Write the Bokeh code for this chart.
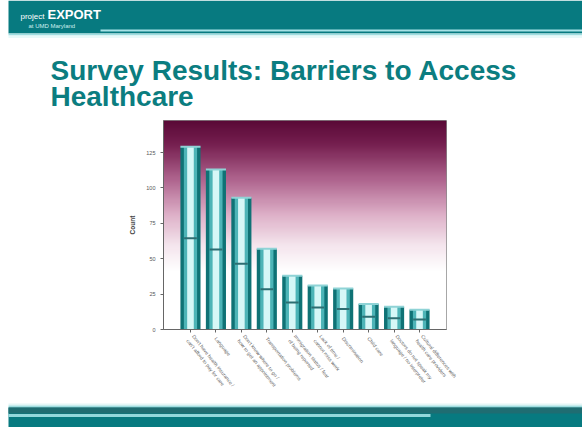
import numpy as np
from bokeh.plotting import figure
from bokeh.models import Range1d, FixedTicker, Label
from bokeh.layouts import column
from bokeh.embed import file_html
from bokeh.resources import INLINE

# ---- data ----
categories = [
    "Don't have health insurance /\ncan't afford to pay for care",
    "Language",
    "Don't know where to go /\nhow to get an appointment",
    "Transportation problems",
    "Immigration status / fear\nof being reported",
    "Lack of time /\ncannot miss work",
    "Discrimination",
    "Child care",
    "Doctors do not speak my\nlanguage / no interpreter",
    "Cultural differences with\nhealth care providers",
]
counts = [129, 113, 93, 57, 38, 31, 29, 18, 16, 14]
y_ticks = [0, 25, 50, 75, 100, 125]
y_label = "Count"
title_line1 = "Survey Results: Barriers to Access"
title_line2 = "Healthcare"

W = 582
TEAL = "#077a80"
TITLE_COLOR = "#0b7d80"


def slide_fig(h):
    f = figure(width=W, height=h, x_range=Range1d(0, W), y_range=Range1d(h, 0),
               output_backend="svg", toolbar_location=None, min_border=0, frame_align=False)
    f.axis.visible = False
    f.grid.visible = False
    f.outline_line_color = None
    f.background_fill_color = "white"
    f.border_fill_color = "white"
    return f


def txt(f, x, y, s, size, color, bold=False):
    f.add_layout(Label(x=x, y=y, text=s, text_font="Liberation Sans", text_font_size=size,
                       text_font_style="bold" if bold else "normal", text_color=color,
                       text_baseline="alphabetic"))


# ---- header band ----
hdr = slide_fig(38)
hdr.quad(left=8, right=W, top=0, bottom=33, fill_color=TEAL, line_color=None)
hdr.quad(left=8, right=W, top=33, bottom=35, fill_color="#9fdde0", line_color=None)
hdr.quad(left=8, right=W, top=35, bottom=38, fill_color="#e8f9f9", line_color=None)
hdr.segment(x0=[100], y0=[30], x1=[W], y1=[30], line_color="#a6e2e6", line_width=2)
txt(hdr, 20, 16, "project", "8px", "white")
txt(hdr, 47, 14, "EXPORT", "13px", "white", bold=True)
txt(hdr, 28, 25, "at UMD Maryland", "6px", "#cdeff0")

# ---- title ----
ttl = slide_fig(77)
txt(ttl, 50, 32, title_line1, "28px", TITLE_COLOR, bold=True)
txt(ttl, 50, 58, title_line2, "28px", TITLE_COLOR, bold=True)

# ---- chart ----
n = len(categories)
xs = list(range(1, n + 1))
y_max = 147.6
p = figure(width=W, height=285, x_range=Range1d(-0.06, n + 1.06), y_range=Range1d(0, y_max),
           output_backend="svg", toolbar_location=None, frame_align=False,
           min_border_left=163, min_border_right=136, min_border_top=5, min_border_bottom=71)
p.grid.visible = False
p.outline_line_color = "#8a8a8a"
p.background_fill_color = "white"
p.border_fill_color = "white"

# vertical gradient background (maroon at top to white)
stops = [(0.0, (90, 9, 55)), (0.12, (120, 34, 82)), (0.28, (175, 100, 142)),
         (0.45, (222, 176, 200)), (0.6, (245, 230, 238)), (0.72, (255, 255, 255)),
         (1.0, (255, 255, 255))]
N = 200
img = np.zeros((N, 2), dtype=np.uint32)
view = img.view(dtype=np.uint8).reshape((N, 2, 4))
for r in range(N):
    frac_top = 1 - r / (N - 1)
    for i in range(len(stops) - 1):
        f0, c0 = stops[i]
        f1, c1 = stops[i + 1]
        if f0 <= frac_top <= f1:
            t = (frac_top - f0) / (f1 - f0)
            c = [int(c0[k] + (c1[k] - c0[k]) * t) for k in range(3)]
            break
    view[r, :, 0] = c[0]
    view[r, :, 1] = c[1]
    view[r, :, 2] = c[2]
    view[r, :, 3] = 255
p.image_rgba(image=[img], x=-0.06, y=0, dw=n + 1.12, dh=y_max)

half = [c / 2 for c in counts]
p.vbar(x=xs, top=counts, width=0.79, fill_color="#0f7275", line_color=None)
p.vbar(x=xs, top=counts, width=0.52, fill_color="#4db4b7", line_color=None)
p.vbar(x=xs, top=counts, width=0.26, fill_color="#d6f7f7", line_color=None)
p.rect(x=xs, y=counts, width=0.79, height=2, height_units="screen",
       fill_color="#8fd3d6", line_color=None)
p.rect(x=xs, y=half, width=0.5, height=2, height_units="screen",
       fill_color="#2d6e72", line_color=None)

p.yaxis.ticker = FixedTicker(ticks=y_ticks)
p.yaxis.axis_label = y_label
p.yaxis.axis_label_text_font_size = "6.5px"
p.yaxis.axis_label_text_font_style = "bold"
p.yaxis.axis_label_text_color = "#444444"
p.yaxis.axis_label_standoff = 7
p.yaxis.major_label_text_font_size = "5.5px"
p.yaxis.major_label_text_color = "#555555"
p.yaxis.minor_tick_line_color = None
p.yaxis.major_tick_out = 3
p.yaxis.major_tick_in = 0

p.xaxis.ticker = FixedTicker(ticks=xs)
p.xaxis.major_label_overrides = {x: lab for x, lab in zip(xs, categories)}
p.xaxis.major_label_orientation = -0.9
p.xaxis.major_label_text_font_size = "5px"
p.xaxis.major_label_text_color = "#666666"
p.xaxis.minor_tick_line_color = None
p.xaxis.major_tick_out = 3
p.xaxis.major_tick_in = 0
p.axis.axis_line_color = "#666666"
p.axis.major_tick_line_color = "#666666"

# ---- footer band ----
ftr = slide_fig(27)
ftr.quad(left=8, right=W, top=3, bottom=5, fill_color="#e3f6f6", line_color=None)
ftr.quad(left=8, right=W, top=5, bottom=7, fill_color="#9fdde0", line_color=None)
ftr.quad(left=8, right=W, top=7, bottom=27, fill_color=TEAL, line_color=None)
ftr.quad(left=8, right=W, top=7, bottom=13, fill_color="#1f6d72", line_color=None)
ftr.segment(x0=[8], y0=[15], x1=[430], y1=[15], line_color="#92d8dc", line_width=3)

layout = column(hdr, ttl, p, ftr, spacing=0)
open("out.html", "w").write(file_html(layout, INLINE))
